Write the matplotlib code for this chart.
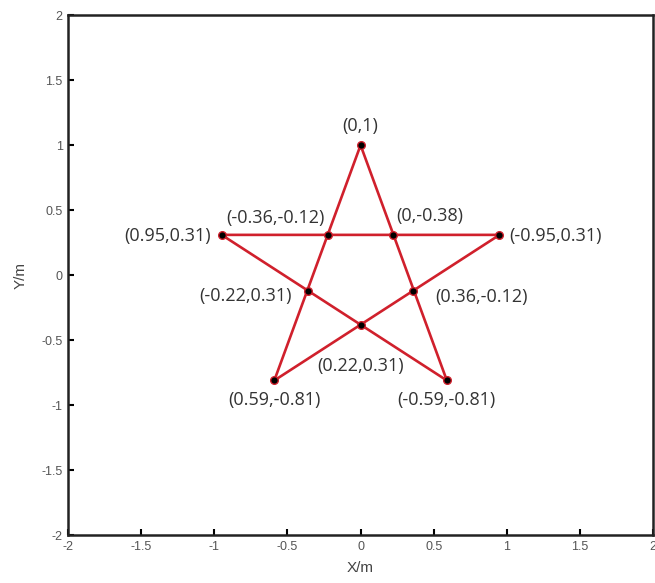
import matplotlib
matplotlib.use("Agg")
import matplotlib.pyplot as plt

# Outer vertices, in drawing order of the pentagram
star_x = [0, 0.59, -0.95, 0.95, -0.59, 0]
star_y = [1, -0.81, 0.31, 0.31, -0.81, 1]

# All marked points (outer + inner intersections)
pts_x = [0, -0.95, 0.95, -0.22, 0.22, -0.36, 0.36, 0, -0.59, 0.59]
pts_y = [1, 0.31, 0.31, 0.31, 0.31, -0.12, -0.12, -0.38, -0.81, -0.81]
pt_labels = ["(0,1)", "(0.95,0.31)", "(-0.95,0.31)", "(-0.36,-0.12)", "(0,-0.38)",
             "(-0.22,0.31)", "(0.36,-0.12)", "(0.22,0.31)", "(0.59,-0.81)", "(-0.59,-0.81)"]

ticks = [-2, -1.5, -1, -0.5, 0, 0.5, 1, 1.5, 2]
tick_labels = ["-2", "-1.5", "-1", "-0.5", "0", "0.5", "1", "1.5", "2"]

# label placement: (dx, dy in pixels, ha)
placements = [
    (0, 19, "center"),
    (-11, -1, "right"),
    (10, -1, "left"),
    (-4, 17, "right"),
    (4, 19, "left"),
    (-16, -5, "right"),
    (22, -6, "left"),
    (0, -41, "center"),
    (0, -20, "center"),
    (0, -20, "center"),
]

fig = plt.figure(figsize=(6.55, 5.83), dpi=100)
ax = fig.add_axes([0.104, 0.082, 0.893, 0.892])

red = "#d0202c"
ax.plot(star_x, star_y, color=red, lw=1.9, zorder=2)
ax.plot(pts_x, pts_y, linestyle="none", marker="o", markersize=5.5,
        markerfacecolor="black", markeredgecolor=red, markeredgewidth=1.0, zorder=3)

for x, y, lab, (dx, dy, ha) in zip(pts_x, pts_y, pt_labels, placements):
    ax.annotate(lab, (x, y), xytext=(dx, dy), textcoords="offset pixels",
                ha=ha, va="center", fontsize=13, color="#333333", family="Open Sans")

ax.set_xlim(-2, 2)
ax.set_ylim(-2, 2)
ax.set_xticks(ticks)
ax.set_xticklabels(tick_labels)
ax.set_yticks(ticks)
ax.set_yticklabels(tick_labels)
ax.tick_params(direction="in", length=4, width=1.5, labelsize=9,
               labelcolor="#555555", top=False, right=False, pad=4)
for lab in ax.get_xticklabels() + ax.get_yticklabels():
    lab.set_family("Liberation Sans")
for s in ax.spines.values():
    s.set_linewidth(1.8)
    s.set_color("#222222")
ax.set_xlabel("X/m", fontsize=11, color="#444444", family="Liberation Sans", labelpad=6)
ax.set_ylabel("Y/m", fontsize=11, color="#444444", family="Liberation Sans", labelpad=10)

fig.savefig("out.png", dpi=100)
